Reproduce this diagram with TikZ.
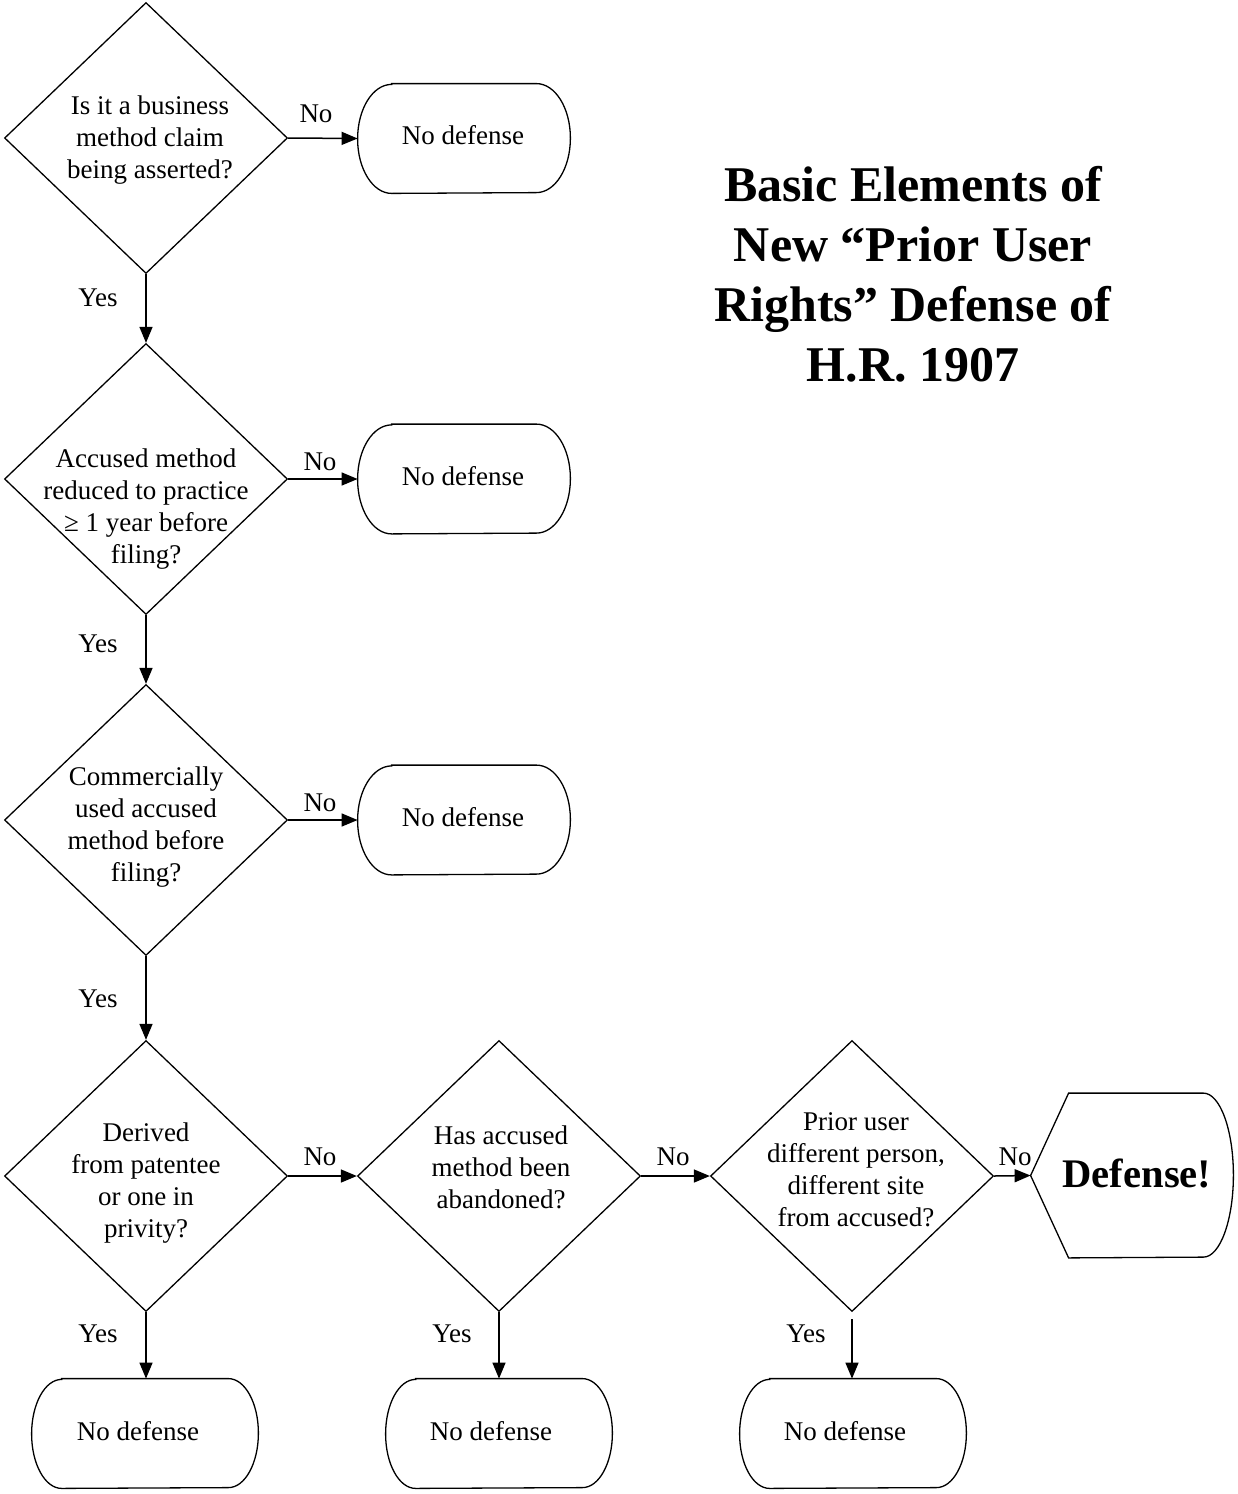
\documentclass[tikz,border=0pt]{standalone}
\usepackage{fontspec}
\setmainfont{Liberation Serif}
\usetikzlibrary{shapes.geometric,arrows.meta}
\newcommand\termoutline[3]{%
  \draw[outline] ([xshift=#2]#1.north west) -- ([xshift=-#2]#1.north east)
    arc[start angle=90,end angle=-90,x radius=#2,y radius=#3]
    -- ([xshift=#2]#1.south west)
    arc[start angle=270,end angle=90,x radius=#2,y radius=#3] -- cycle;}
\begin{document}
\begin{tikzpicture}[x=0.5pt,y=-0.5pt,
  every node/.style={font=\fontsize{13.5}{16}\selectfont},
  dec/.style={diamond, draw, line width=0.65pt, minimum width=141.5pt, minimum height=135.5pt, inner sep=0pt},
  qtext/.style={align=center, inner sep=0pt},
  topbox/.style={rectangle, inner sep=0pt, minimum width=106pt, minimum height=54.5pt},
  botbox/.style={rectangle, inner sep=0pt, minimum width=113pt, minimum height=54.5pt},
  outline/.style={line width=0.65pt},
  arr/.style={-{Triangle[length=8pt,width=6.5pt]}, line width=0.75pt},
  lbl/.style={inner sep=0pt},
  title/.style={align=center, inner sep=0pt, font=\fontsize{25}{30}\selectfont\bfseries}
]
\useasboundingbox (0,0) rectangle (1237,1494);

% decisions
\node[dec] (q1) at (146,138) {};
\node[dec] (q2) at (146,479) {};
\node[dec] (q3) at (146,820) {};
\node[dec] (q4) at (146,1176) {};
\node[dec] (q5) at (499,1176) {};
\node[dec] (q6) at (852,1176) {};

\node[qtext] (q1t) at (150,140) {Is it a business\\method claim\\being asserted?};
\node[qtext] (q2t) at (146,509) {Accused method\\reduced to practice\\≥ 1 year before\\filing?};
\node[qtext] (q3t) at (146,827) {Commercially\\used accused\\method before\\filing?};
\node[qtext] (q4t) at (146,1183) {Derived\\from patentee\\or one in\\privity?};
\node[qtext] (q5t) at (501,1167) {Has accused\\method been\\abandoned?};
\node[qtext] (q6t) at (856,1170) {Prior user\\different person,\\different site\\from accused?};

% terminal boxes
\node[topbox] (n1) at (464,138.5) {};
\node[topbox] (n2) at (464,479) {};
\node[topbox] (n3) at (464,820) {};
\node[botbox] (b1) at (145,1433.5) {};
\node[botbox] (b2) at (499,1433.5) {};
\node[botbox] (b3) at (853,1433.5) {};
\termoutline{n1}{17pt}{27.25pt}
\termoutline{n2}{17pt}{27.25pt}
\termoutline{n3}{17pt}{27.25pt}
\termoutline{b1}{15pt}{27.25pt}
\termoutline{b2}{15pt}{27.25pt}
\termoutline{b3}{15pt}{27.25pt}
\node[lbl] (n1t) at (463,135) {No defense};
\node[lbl] (n2t) at (463,476) {No defense};
\node[lbl] (n3t) at (463,817) {No defense};
\node[lbl] (b1t) at (138,1431) {No defense};
\node[lbl] (b2t) at (491,1431) {No defense};
\node[lbl] (b3t) at (845,1431) {No defense};

% defense shape
\node[rectangle, inner sep=0pt, minimum width=101pt, minimum height=82pt] (def) at (1132,1175.5) {};
\draw[outline] (def.west) -- ([xshift=19pt]def.north west) -- ([xshift=-15pt]def.north east)
  arc[start angle=90,end angle=-90,x radius=15pt,y radius=41pt]
  -- ([xshift=19pt]def.south west) -- cycle;
\node[lbl, font=\fontsize{20.3}{24}\selectfont\bfseries] (deft) at (1137,1173) {Defense!};

% connectors
\draw[arr] (q1.east) -- (n1.west);
\draw[arr] (q2.east) -- (n2.west);
\draw[arr] (q3.east) -- (n3.west);
\draw[arr] (q1.south) -- (q2.north);
\draw[arr] (q2.south) -- (q3.north);
\draw[arr] (q3.south) -- (q4.north);
\draw[arr] (q4.east) -- (q5.west);
\draw[arr] (q5.east) -- (q6.west);
\draw[arr] (q6.east) -- (def.west);
\draw[arr] (q4.south) -- (q4.south |- b1.north);
\draw[arr] (q5.south) -- (q5.south |- b2.north);
\draw[arr, shorten <=3.5pt] (q6.south) -- (q6.south |- b3.north);

% edge labels
\node[lbl] (no1) at (316,114) {No};
\node[lbl] (no2) at (320,462) {No};
\node[lbl] (no3) at (320,803) {No};
\node[lbl] (no4) at (320,1157) {No};
\node[lbl] (no5) at (673,1157) {No};
\node[lbl] (no6) at (1015,1157) {No};
\node[lbl] (yes1) at (98,298) {Yes};
\node[lbl] (yes2) at (98,644) {Yes};
\node[lbl] (yes3) at (98,999) {Yes};
\node[lbl] (yes4) at (98,1334) {Yes};
\node[lbl] (yes5) at (452,1334) {Yes};
\node[lbl] (yes6) at (806,1334) {Yes};

% title
\node[title] (ttl) at (913,274) {Basic Elements of\\New “Prior User\\Rights” Defense of\\H.R. 1907};
\end{tikzpicture}
\end{document}
